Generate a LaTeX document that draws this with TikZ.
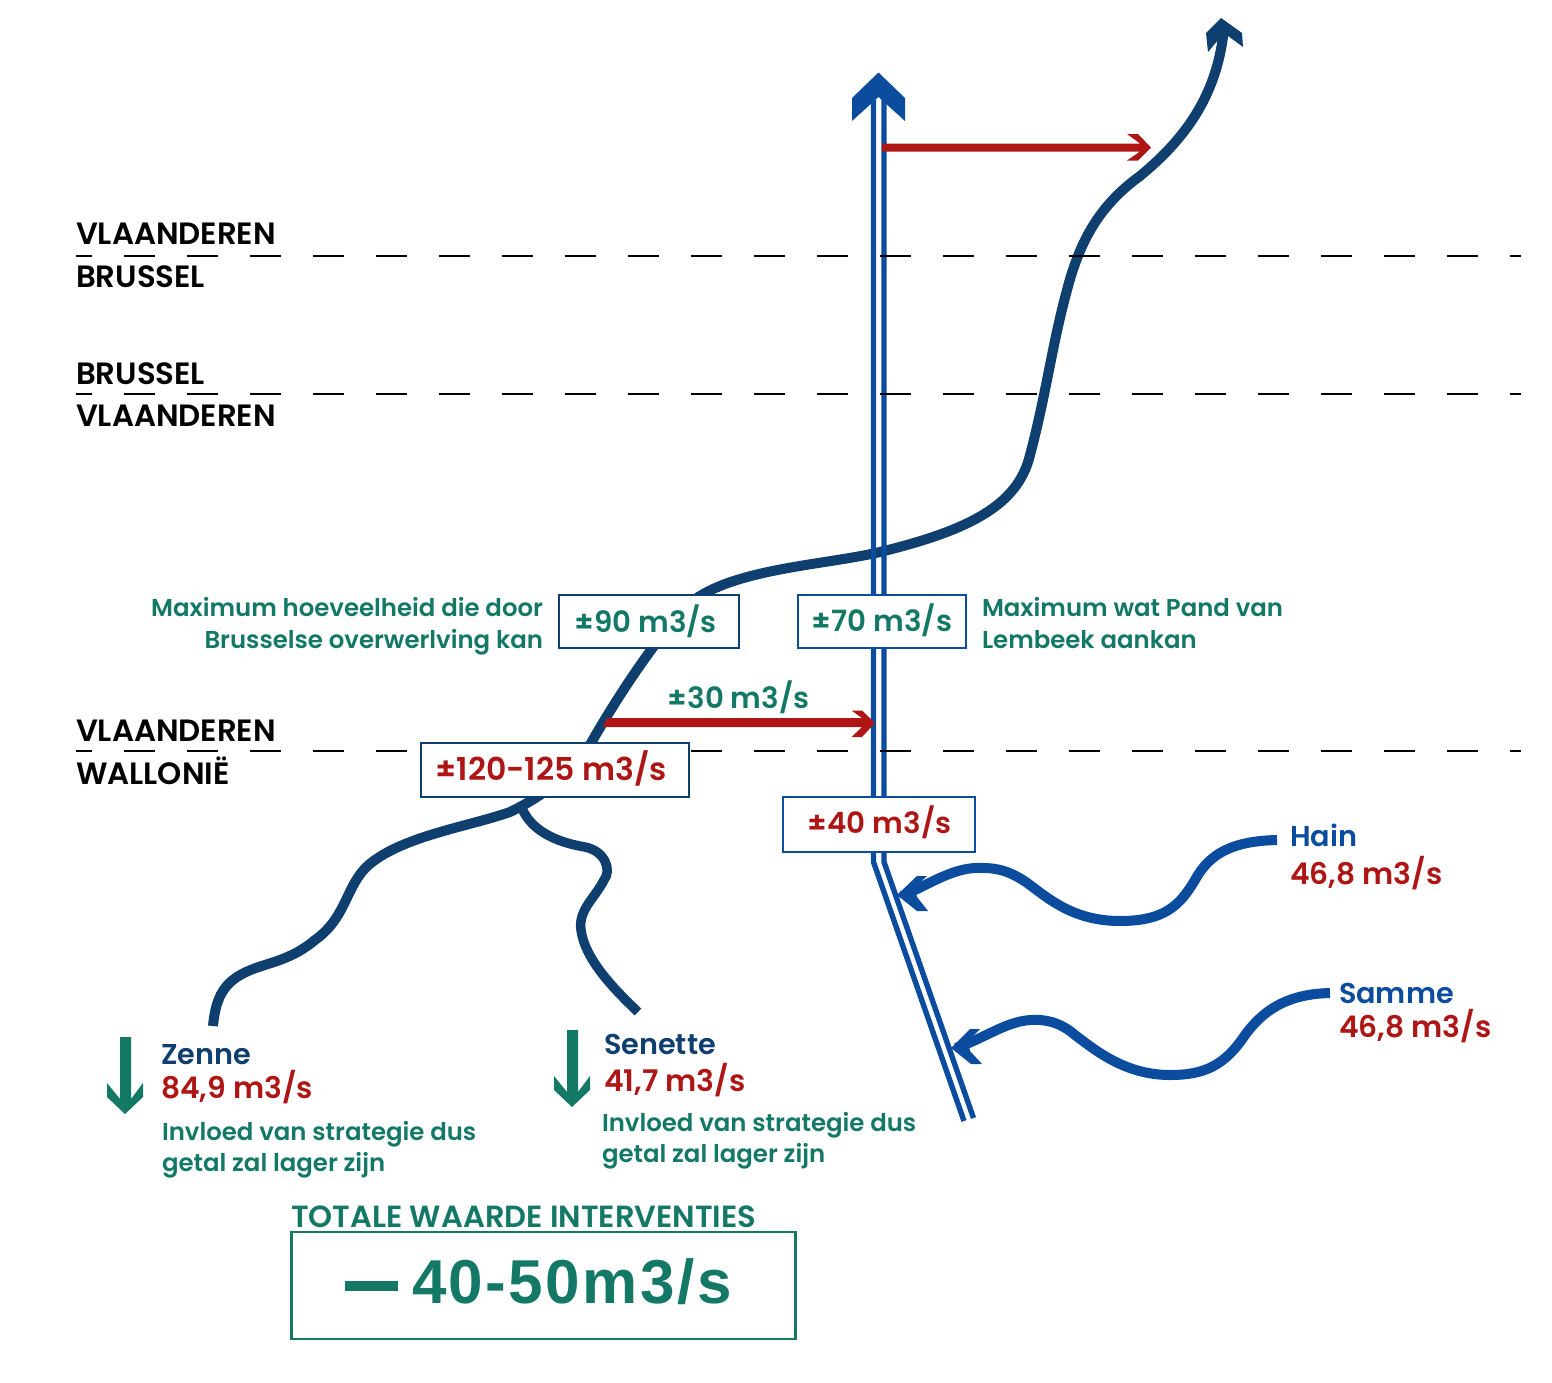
\documentclass[tikz,border=0pt]{standalone}
\usepackage{fontspec}
\setmainfont{Poppins}[UprightFont=* SemiBold,BoldFont=* Bold]
\newfontfamily\bigfont{Liberation Sans}[BoldFont=* Bold,LetterSpace=4]
\definecolor{navy}{HTML}{0F3F6E}
\definecolor{riverblue}{HTML}{0B4C9F}
\definecolor{redc}{HTML}{AE1616}
\definecolor{greenc}{HTML}{137866}
\tikzset{
  lab/.style={inner sep=0pt,outer sep=0pt,anchor=base west},
  labr/.style={inner sep=0pt,outer sep=0pt,anchor=base east},
  region/.style={lab,text=black,font=\fontsize{30.8}{30}\selectfont},
  note/.style={text=greenc,font=\fontsize{24.4}{24}\selectfont},
  rivername/.style={font=\fontsize{28.7}{28}\selectfont},
  flow/.style={text=redc,font=\fontsize{29.8}{28}\selectfont},
  valbox/.style={line width=2.5pt,fill=white,inner sep=0pt},
  valtext/.style={inner sep=0pt,outer sep=0pt,anchor=base,font=\fontsize{29.3}{28}\selectfont},
  river/.style={line width=10pt,navy},
  side/.style={line width=10pt,riverblue},
  border/.style={line width=2.4pt,black,dash pattern=on 31.5pt off 31.5pt,dash phase=15.5pt},
  twin/.style={line width=5.4pt,riverblue,line join=miter},
}
\begin{document}
\begin{tikzpicture}[x=1pt,y=-1pt]
\useasboundingbox (0,0) rectangle (1552,1382);
% rivers
\draw[river] (1224,28) .. controls (1218,90) and (1190,135) .. (1140,176)
  .. controls (1100,205) and (1080,240) .. (1067,290)
  .. controls (1052,345) and (1046,395) .. (1030,455)
  .. controls (1018,505) and (970,530) .. (880,552)
  .. controls (830,564) and (745,568) .. (700,596)
  .. controls (680,608) and (634,668) .. (591,743)
  .. controls (570,775) and (545,795) .. (510,812)
  .. controls (470,826) and (410,835) .. (375,860)
  .. controls (345,880) and (350,915) .. (315,940)
  .. controls (285,965) and (260,962) .. (237,977)
  .. controls (220,988) and (215,1005) .. (213,1026);
\draw[river,line width=9.5pt] (521,806) .. controls (530,830) and (555,842) .. (585,847)
  .. controls (605,851) and (612,870) .. (604,880)
  .. controls (595,898) and (578,910) .. (581,930)
  .. controls (585,960) and (615,990) .. (638,1012);
\fill[navy] (1221,18) -- (1242,33) -- (1243,47) -- (1224,33) -- (1208,52) -- (1206,33) -- cycle;
% Pand van Lembeek
\draw[twin] (873.5,100) -- (873.5,862) -- (964,1121);
\draw[twin] (884,100) -- (884,862) -- (973.5,1118);
\fill[riverblue] (878.5,72.5) -- (905,98) -- (905,121) -- (878.5,97) -- (852,121) -- (852,98) -- cycle;
% red connectors
\fill[redc] (882,143.5) -- (1140,143.5) -- (1127,134) -- (1138,134) -- (1151,147.5) -- (1138,160.5) -- (1127,160.5) -- (1140,151.5) -- (882,151.5) -- cycle;
\fill[redc] (607,718) -- (862,718) -- (851.5,710.5) -- (862,710.5) -- (875,723) -- (862,737) -- (851.5,737) -- (862,727) -- (603,727) -- cycle;
% borders
\draw[border] (76,256) -- (1521,256);
\draw[border] (76,394) -- (1521,394);
\draw[border] (76,751) -- (1521,751);
% side rivers
\draw[side] (1277,840) .. controls (1235,841) and (1210,852) .. (1195,880)
  .. controls (1180,905) and (1165,921) .. (1120,921)
  .. controls (1075,921) and (1050,900) .. (1030,885)
  .. controls (1010,870) and (995,868) .. (983,868)
  .. controls (955,866) and (930,884) .. (902,896);
\fill[riverblue] (897,895) -- (917,876) -- (927,876) -- (914,888) -- (917,897) -- (928,911) -- (917,911) -- cycle;
\draw[side] (1330,993) .. controls (1285,994) and (1262,1012) .. (1245,1035)
  .. controls (1225,1065) and (1205,1075) .. (1170,1075)
  .. controls (1125,1075) and (1095,1050) .. (1075,1035)
  .. controls (1060,1022) and (1045,1019) .. (1030,1020)
  .. controls (1005,1022) and (985,1038) .. (956,1048);
\fill[riverblue] (951,1048) -- (970,1029) -- (980,1029) -- (968,1041) -- (970,1051) -- (982,1064) -- (971,1064) -- cycle;
% green arrows
\fill[greenc] (120,1037) -- (131,1037) -- (131,1099) -- (143,1083) -- (143,1097) -- (125,1114) -- (107,1097) -- (107,1083) -- (120,1099) -- cycle;
\fill[greenc] (567,1030) -- (578,1030) -- (578,1092) -- (590,1076) -- (590,1090) -- (572,1107) -- (554,1090) -- (554,1076) -- (567,1092) -- cycle;
% value boxes
\node[valbox,draw=navy,minimum width=180pt,minimum height=53pt] (b90r) at (649,621.5) {};
\node[valbox,draw=riverblue,minimum width=168pt,minimum height=53pt] (b70r) at (882,621.5) {};
\node[valbox,draw=navy,minimum width=268pt,minimum height=54pt] (b120r) at (555,770) {};
\node[valbox,draw=riverblue,minimum width=192pt,minimum height=55pt] (b40r) at (879,824.5) {};
\node[valtext,text=greenc] (t90) at (645.5,632) {±90 m3/s};
\node[valtext,text=greenc] (t70) at (882,631) {±70 m3/s};
\node[valtext,text=greenc] (t30) at (738.5,708) {±30 m3/s};
\node[valtext,text=redc,font=\fontsize{31.5}{28}\selectfont] (t120) at (551,780) {±120-125 m3/s};
\node[valtext,text=redc] (t40) at (879.5,833) {±40 m3/s};
% region labels
\node[region] (r1) at (76,244) {VLAANDEREN};
\node[region] (r2) at (76,287) {BRUSSEL};
\node[region] (r3) at (76,384) {BRUSSEL};
\node[region] (r4) at (76,426) {VLAANDEREN};
\node[region] (r5) at (76,741) {VLAANDEREN};
\node[region] (r6) at (76,784) {WALLONIË};
% notes
\node[labr,note] (n1) at (543,616) {Maximum hoeveelheid die door};
\node[labr,note] (n2) at (543,648) {Brusselse overwerlving kan};
\node[lab,note] (n3) at (982,616) {Maximum wat Pand van};
\node[lab,note] (n4) at (982,648) {Lembeek aankan};
\node[lab,rivername,text=navy] (z1) at (161,1064) {Zenne};
\node[lab,flow] (z2) at (161,1098) {84,9 m3/s};
\node[lab,note] (z3) at (162,1140) {Invloed van strategie dus};
\node[lab,note] (z4) at (162,1171) {getal zal lager zijn};
\node[lab,rivername,text=navy] (s1) at (604,1054) {Senette};
\node[lab,flow] (s2) at (604,1091) {41,7 m3/s};
\node[lab,note] (s3) at (602,1131) {Invloed van strategie dus};
\node[lab,note] (s4) at (602,1162) {getal zal lager zijn};
\node[lab,rivername,text=riverblue] (h1) at (1290,846) {Hain};
\node[lab,flow] (h2) at (1290,884) {46,8 m3/s};
\node[lab,rivername,text=riverblue] (m1) at (1339,1003) {Samme};
\node[lab,flow] (m2) at (1339,1037) {46,8 m3/s};
% total
\node[lab,text=greenc,font=\fontsize{30.6}{30}\selectfont] (tt) at (291,1227) {TOTALE WAARDE INTERVENTIES};
\node[draw=greenc,line width=2.6pt,inner sep=0pt,minimum width=504pt,minimum height=107pt] (tb) at (543.5,1285.5) {};
\fill[greenc] (345,1281) rectangle (398,1291);
\node[lab,text=greenc,font=\bigfont\fontsize{62}{62}\selectfont\bfseries] (tv) at (412,1303) {40-50m3/s};
\end{tikzpicture}
\end{document}
